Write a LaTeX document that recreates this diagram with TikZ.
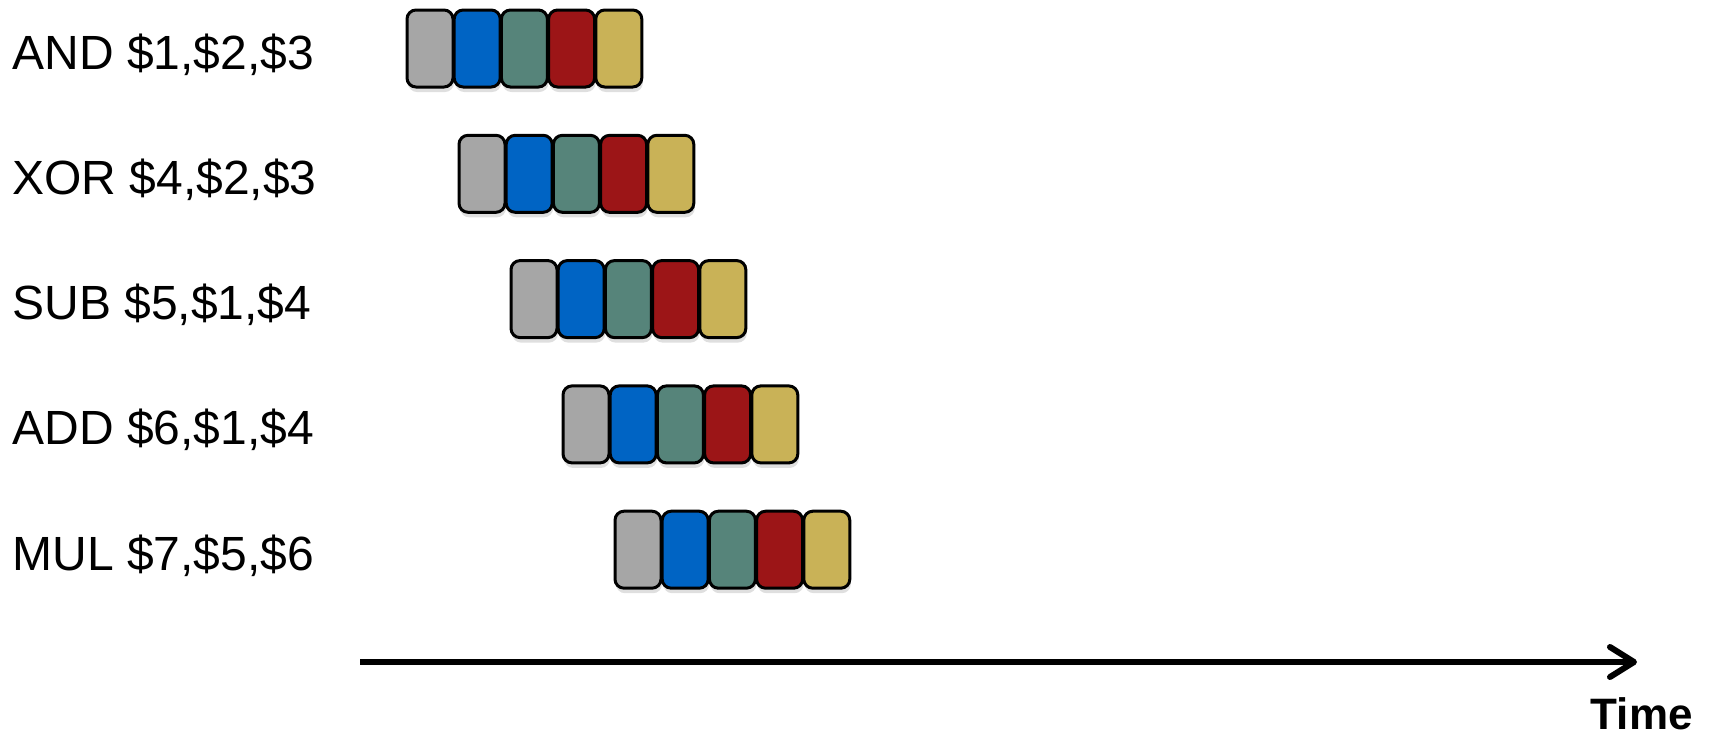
\documentclass[tikz,border=0pt]{standalone}
\usepackage{fontspec}
\setmainfont{Liberation Sans}
\usetikzlibrary{positioning, arrows.meta, shadows}

\definecolor{ifgray}{HTML}{A6A6A6}
\definecolor{idblue}{HTML}{0064C4}
\definecolor{exteal}{HTML}{56847A}
\definecolor{memred}{HTML}{9C1517}
\definecolor{wbgold}{HTML}{C9B257}

\tikzset{
  stage/.style={draw=black, line width=1.5pt, rounded corners=4.5pt,
    minimum width=23pt, minimum height=38.5pt, inner sep=0pt,
    drop shadow={opacity=0.25, shadow xshift=0.5pt, shadow yshift=-2.5pt}},
  instr/.style={anchor=base west, inner sep=0pt, font=\fontsize{24}{28}\selectfont},
}

\begin{document}
\begin{tikzpicture}[x=0.5pt, y=-0.5pt, node distance=23.6pt, on grid]
    \useasboundingbox (0,0) rectangle (1709,735);

    \foreach \r/\txt in {0/{AND \$1,\$2,\$3}, 1/{XOR \$4,\$2,\$3}, 2/{SUB \$5,\$1,\$4},
                          3/{ADD \$6,\$1,\$4}, 4/{MUL \$7,\$5,\$6}} {
        \node[instr] (lbl\r) at (12, 69+125.3*\r) {\txt};
        \node[stage, fill=ifgray] (if\r) at (430+52*\r, 48.5+125.3*\r) {};
        \node[stage, fill=idblue] (id\r) [right=of if\r] {};
        \node[stage, fill=exteal] (ex\r) [right=of id\r] {};
        \node[stage, fill=memred] (mem\r) [right=of ex\r] {};
        \node[stage, fill=wbgold] (wb\r) [right=of mem\r] {};
    }

    \coordinate (t0) at (360, 662);
    \coordinate (t1) at (1637, 662);
    \draw[line width=3pt, -{Straight Barb[length=12pt, width=15pt, round]},
          drop shadow={opacity=0.2, shadow xshift=0.5pt, shadow yshift=-1.5pt}] (t0) -- (t1);
    \node[anchor=east, inner sep=0pt, font=\bfseries\fontsize{22}{26}\selectfont] (time) at (1693, 714) {Time};
\end{tikzpicture}
\end{document}
